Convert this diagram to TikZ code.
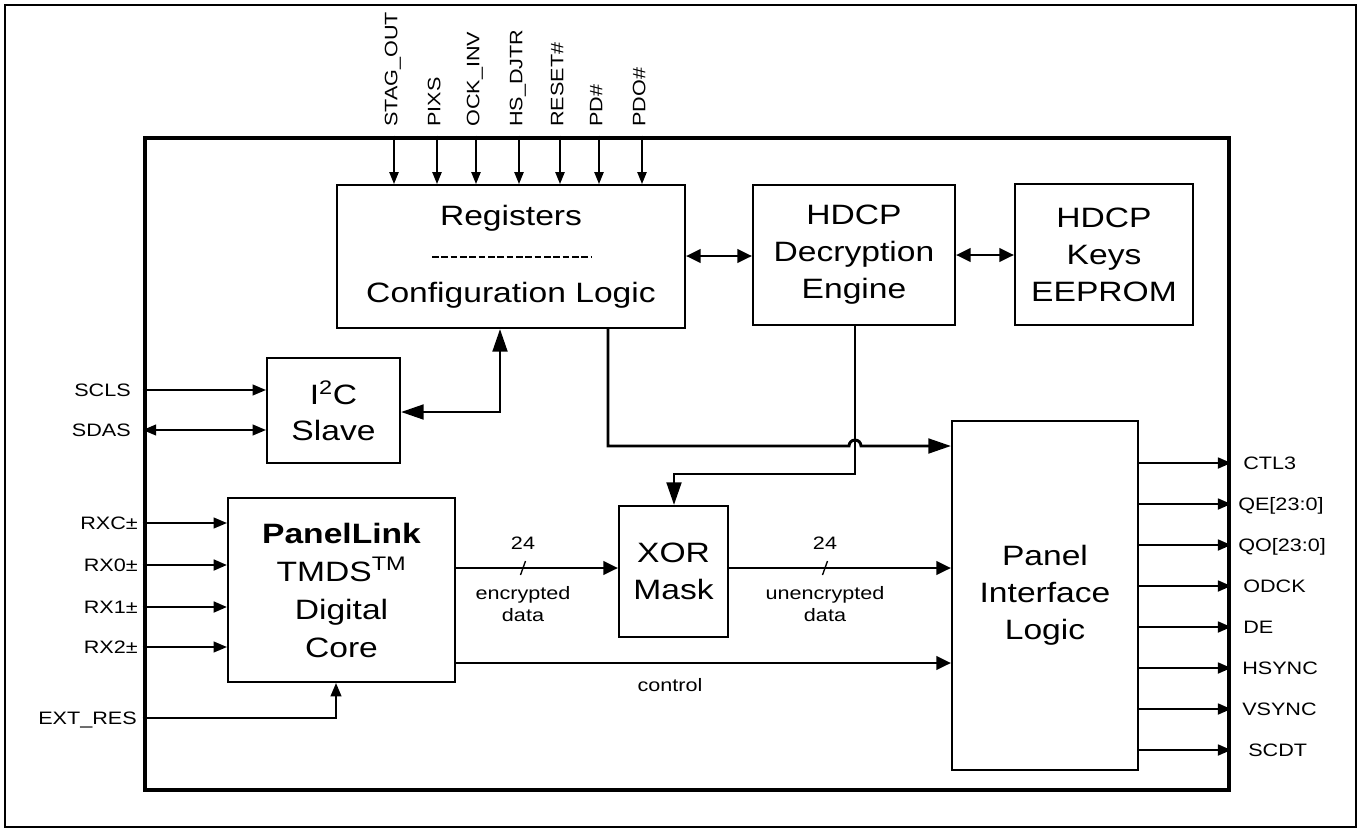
\documentclass[tikz,border=0pt]{standalone}
\usepackage{fontspec}
\setmainfont{Liberation Sans}[FakeStretch=1.2]
\usetikzlibrary{arrows.meta}
\tikzset{
  framebox/.style={draw, line width=1.5pt, inner sep=0pt},
  chipbox/.style={draw, line width=3.4pt, inner sep=0pt},
  blockbox/.style={draw, line width=1.5pt, align=center, inner sep=0pt,
    font=\fontsize{21}{27.75}\selectfont},
  lab/.style={font=\fontsize{13.5}{16.5}\selectfont, inner sep=0pt, text height=9.7pt, text depth=0pt},
  smalllab/.style={font=\fontsize{13.5}{16.5}\selectfont, inner sep=0pt, align=center},
  pinarr/.style={line width=1.1pt, -{Triangle[length=9pt,width=7pt]}},
  sigarr/.style={line width=1.5pt, -{Triangle[length=10pt,width=8pt]}},
  sigboth/.style={line width=1.5pt, {Triangle[length=10pt,width=8pt]}-{Triangle[length=10pt,width=8pt]}},
  busarr/.style={line width=2.2pt, -{Triangle[length=11pt,width=10pt]}},
  busboth/.style={line width=2.2pt, {Triangle[length=11pt,width=10pt]}-{Triangle[length=11pt,width=10pt]}},
  bigarr/.style={line width=2.2pt, -{Triangle[length=17pt,width=11pt]}},
  bigboth/.style={line width=2.2pt, {Triangle[length=17pt,width=11pt]}-{Triangle[length=17pt,width=11pt]}},
  slash/.style={line width=1pt}
}
\begin{document}
\begin{tikzpicture}[x=0.75pt,y=-0.75pt]
\useasboundingbox (0,0) rectangle (1361,832);
% frames
\node[framebox, minimum width=1013.25pt, minimum height=616.5pt] (frame) at (680.5,416) {};
\node[chipbox, minimum width=813pt, minimum height=489pt] (chip) at (687,464) {};
% blocks
\node[blockbox, minimum width=261pt, minimum height=107.25pt] (reg) at (511,256.5)
  {Registers\\[30pt]Configuration Logic};
\draw[line width=1.3pt, dash pattern=on 5pt off 2pt] (432,257) -- (592,257);
\node[blockbox, minimum width=151.5pt, minimum height=105pt] (hdcp) at (854,255)
  {HDCP\\Decryption\\Engine};
\node[blockbox, minimum width=133.5pt, minimum height=105.75pt] (keys) at (1104,254.5)
  {HDCP\\Keys\\EEPROM};
\node[blockbox, minimum width=99.75pt, minimum height=78.75pt, font=\fontsize{21}{27}\selectfont] (i2c) at (333.5,410.5)
  {I\textsuperscript{2}C\\Slave};
\node[blockbox, minimum width=170.25pt, minimum height=138pt, font=\fontsize{21}{28.5}\selectfont] (pl) at (341.5,590)
  {\textbf{PanelLink}\\TMDS\textsuperscript{TM}\\Digital\\Core};
\node[blockbox, minimum width=81.75pt, minimum height=98.25pt] (xor) at (673.5,571.5)
  {XOR\\Mask};
\node[blockbox, minimum width=139.5pt, minimum height=261.75pt] (pil) at (1045,595.5)
  {Panel\\Interface\\Logic};
% top pins
\foreach \x/\t/\n in {394/STAG\_OUT/t1, 437/PIXS/t2, 476/OCK\_INV/t3, 519/HS\_DJTR/t4, 560/RESET\#/t5, 599/PD\#/t6, 642/PDO\#/t7}{
  \draw[pinarr] (\x,0 |- chip.north) -- (\x,0 |- reg.north);
  \node[lab, rotate=90, anchor=west] (\n) at (\x-3,127) {\t};
}
% left inputs
\draw[sigarr] (chip.west |- 0,390) -- (i2c.west |- 0,390);
\node[lab, anchor=east] (lscls) at (131,390) {SCLS};
\draw[sigboth] (chip.west |- 0,430) -- (i2c.west |- 0,430);
\node[lab, anchor=east] (lsdas) at (131,430) {SDAS};
\draw[sigarr] (chip.west |- 0,523) -- (pl.west |- 0,523);
\node[lab, anchor=east] (lrxc) at (138,523) {RXC±};
\draw[sigarr, line width=2pt] (chip.west |- 0,565) -- (pl.west |- 0,565);
\node[lab, anchor=east] (lrx0) at (138,565) {RX0±};
\draw[sigarr, line width=2pt] (chip.west |- 0,607) -- (pl.west |- 0,607);
\node[lab, anchor=east] (lrx1) at (138,607) {RX1±};
\draw[sigarr] (chip.west |- 0,647) -- (pl.west |- 0,647);
\node[lab, anchor=east] (lrx2) at (138,647) {RX2±};
\draw[sigarr] (chip.west |- 0,718) -| (336,0 |- pl.south);
\node[lab, anchor=east] (lext) at (137,718) {EXT\_RES};
% internal connections
\draw[busboth] (reg.east |- 0,256) -- (hdcp.west |- 0,256);
\draw[busboth] (hdcp.east |- 0,255) -- (keys.west |- 0,255);
\draw[bigboth] (i2c.east |- 0,412) -| (500,0 |- reg.south);
\draw[bigarr] (608,0 |- reg.south) |- (849,446) arc[start angle=180, end angle=0, radius=4.5pt] -- (pil.west |- 0,446);
\draw[bigarr] (855,0 |- hdcp.south) |- (674,474) -- (674,0 |- xor.north);
\draw[busarr] (pl.east |- 0,568) -- (xor.west |- 0,568);
\draw[busarr] (xor.east |- 0,568) -- (pil.west |- 0,568);
\draw[busarr] (pl.east |- 0,663) -- (pil.west |- 0,663);
% bus marks and labels
\draw[slash] (520.5,575) -- (525.5,561);
\draw[slash] (822.5,575) -- (827.5,561);
\node[lab] (n24a) at (523,543) {24};
\node[lab] (n24b) at (825,543) {24};
\node[smalllab] (lenc) at (523,604) {encrypted\\data};
\node[smalllab] (lunenc) at (825,604) {unencrypted\\data};
\node[lab] (lctl) at (670,685) {control};
% outputs
\foreach \y/\t/\n/\lx in {463/CTL3/o1/1243, 504/{QE[23:0]}/o2/1238, 545/{QO[23:0]}/o3/1238, 586/ODCK/o4/1243, 627/DE/o5/1243, 668/HSYNC/o6/1242, 709/VSYNC/o7/1242, 750/SCDT/o8/1248}{
  \draw[sigarr, line width=2pt] (pil.east |- 0,\y) -- (chip.east |- 0,\y);
  \node[lab, anchor=west] (\n) at (\lx,\y) {\t};
}
\end{tikzpicture}
\end{document}
